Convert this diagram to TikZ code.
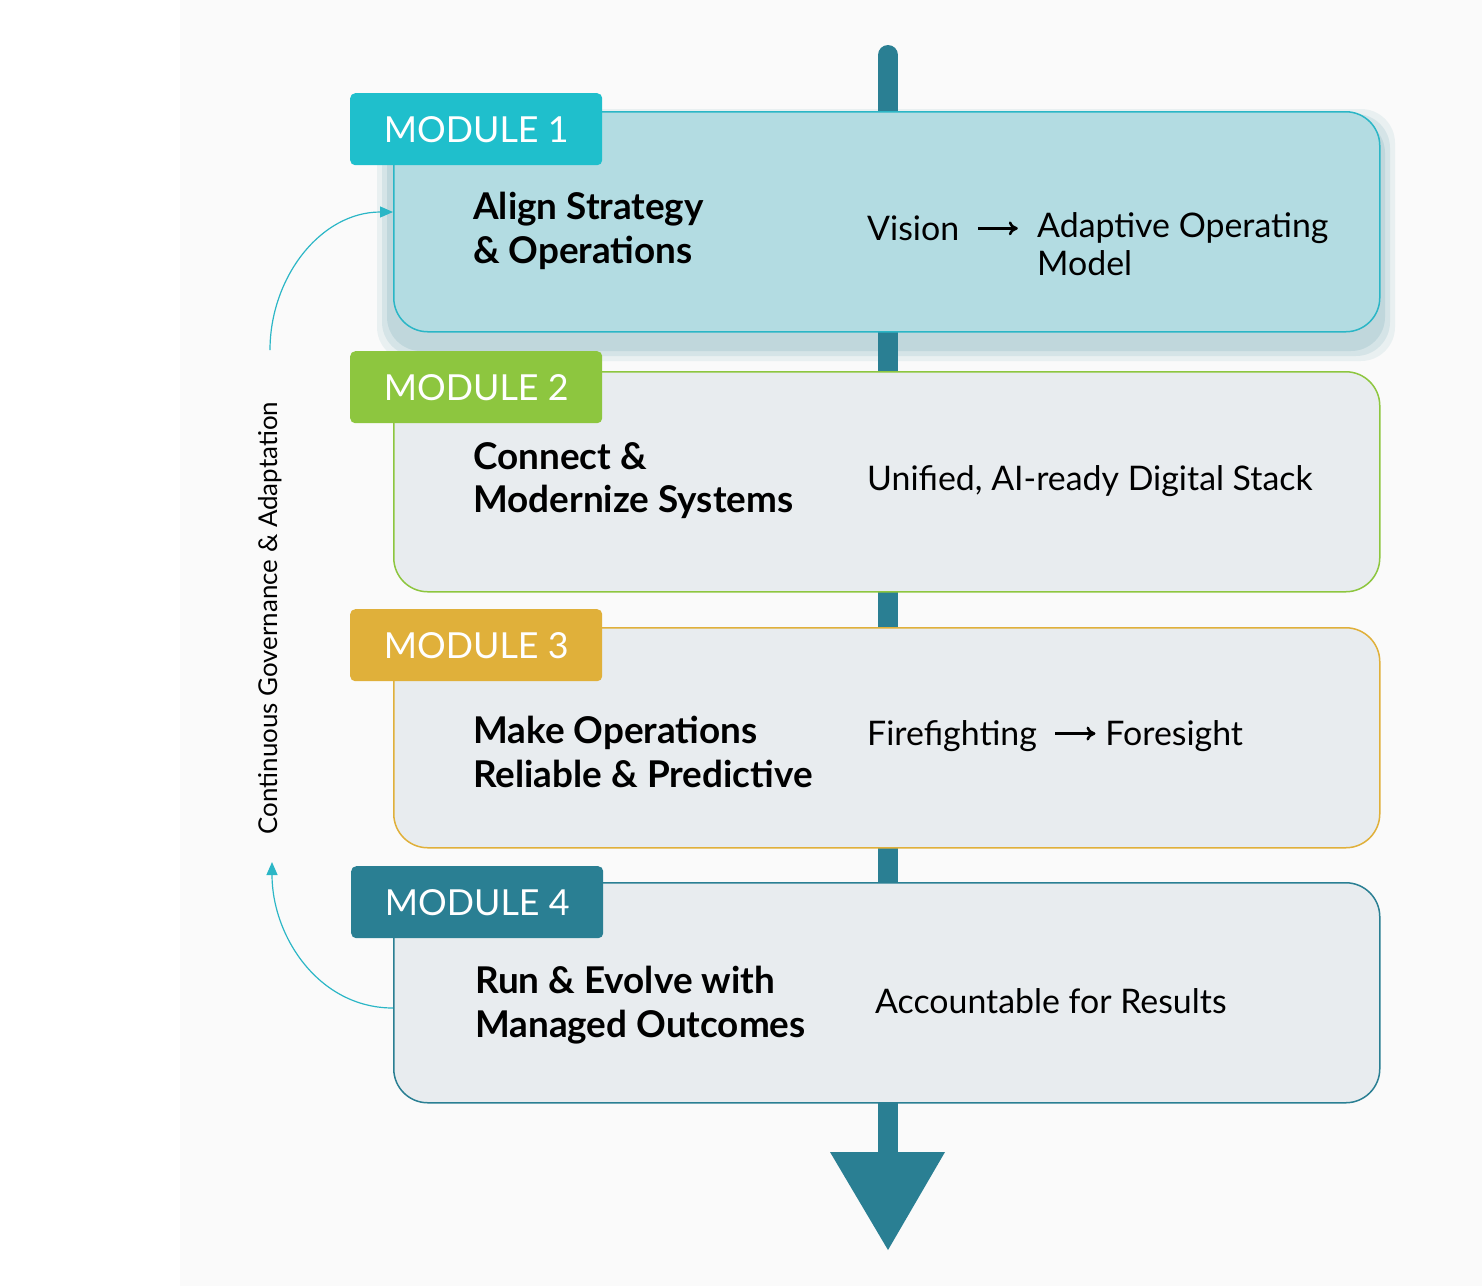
\documentclass[tikz,border=0pt]{standalone}
\usepackage{fontspec}
\setmainfont{Lato}
\usetikzlibrary{positioning,arrows.meta}
\definecolor{spine}{HTML}{2A7F93}
\definecolor{cyanM}{HTML}{1FBFCC}
\definecolor{cyanL}{HTML}{2BB6C6}
\definecolor{fillA}{HTML}{B3DCE2}
\definecolor{greenM}{HTML}{8DC63F}
\definecolor{goldM}{HTML}{E0B03A}
\definecolor{boxg}{HTML}{E8ECEF}
\newcommand{\gainarrow}{\tikz[baseline=-0.35em]\draw[line width=2.6bp, -{To[length=9bp,width=14bp]}] (0,0) -- (40bp,0);}
\tikzset{
  modbox/.style={draw, line width=1.5bp, rounded corners=34bp, minimum width=986bp, minimum height=220bp, anchor=north west},
  tab/.style={rounded corners=5bp, minimum width=252bp, minimum height=72bp, anchor=north west, text=white, font=\fontsize{36}{44}\selectfont, inner sep=0pt},
  title/.style={anchor=north west, align=left, font=\fontsize{37}{44}\selectfont\bfseries, inner sep=0pt},
  gain/.style={anchor=west, align=left, font=\fontsize{34}{38}\selectfont, inner sep=0pt},
  loop/.style={cyanL, line width=1.2bp, -{Triangle[length=13bp,width=11bp]}}
}
\begin{document}
\begin{tikzpicture}[x=1bp,y=-1bp]
	\useasboundingbox (0,0) rectangle (1482,1286);
	\fill[white] (0,0) rectangle (1482,1286);
	\fill[black!2] (180,0) rectangle (1482,1286);

	% spine
	\draw[spine, line width=20bp, line cap=round] (888,55) -- (888,1155);
	\fill[spine] (830,1152) -- (945,1152) -- (888,1250) -- cycle;

	% shadow of first module
	\foreach \d/\o in {16/0.08,11/0.1,6/0.12}
		\fill[spine, opacity=\o, rounded corners=34bp] (393-\d,125-\d) rectangle (1379+\d,345+\d);

	% modules
	\node (b1) [modbox, draw=cyanL, fill=fillA] at (393,111) {};
	\node (b2) [modbox, draw=greenM, fill=boxg] at (393,371) {};
	\node (b3) [modbox, draw=goldM, fill=boxg] at (393,627) {};
	\node (b4) [modbox, draw=spine, fill=boxg] at (393,882) {};

	\node (t1) [tab, fill=cyanM]  at (350,93)  {MODULE 1};
	\node (t2) [tab, fill=greenM] at (350,351) {MODULE 2};
	\node (t3) [tab, fill=goldM]  at (350,609) {MODULE 3};
	\node (t4) [tab, fill=spine]  at (351,866) {MODULE 4};

	\node (n1) [title] at (473,192) {Align Strategy\\\& Operations};
	\node (n2) [title] at (473,442) {Connect \&\\Modernize Systems};
	\node (n3) [title] at (473,716) {Make Operations\\Reliable \& Predictive};
	\node (n4) [title] at (475,966) {Run \& Evolve with\\Managed Outcomes};

	\node (g1) [gain] at (867,228) {Vision \ \gainarrow};
	\node (g1b) [gain, anchor=north west] at (1037,212) {Adaptive Operating\\Model};
	\node (g2) [gain] at (867,481) {Unified, AI-ready Digital Stack};
	\node (g3) [gain] at (867,736) {Firefighting \ \gainarrow\ Foresight};
	\node (g4) [gain] at (875,1001) {Accountable for Results};

	% governance loop
	\node (gov) [rotate=90, font=\fontsize{26}{30}\selectfont, inner sep=0pt] at (270,618) {Continuous Governance \& Adaptation};
	\coordinate (lo) at (272,862);
	\coordinate (hi) at (270,350);
	\draw[loop] (393,1008) to[out=180,in=270] (lo);
	\draw[loop] (hi) to[out=90,in=180] (393,212);
\end{tikzpicture}
\end{document}
